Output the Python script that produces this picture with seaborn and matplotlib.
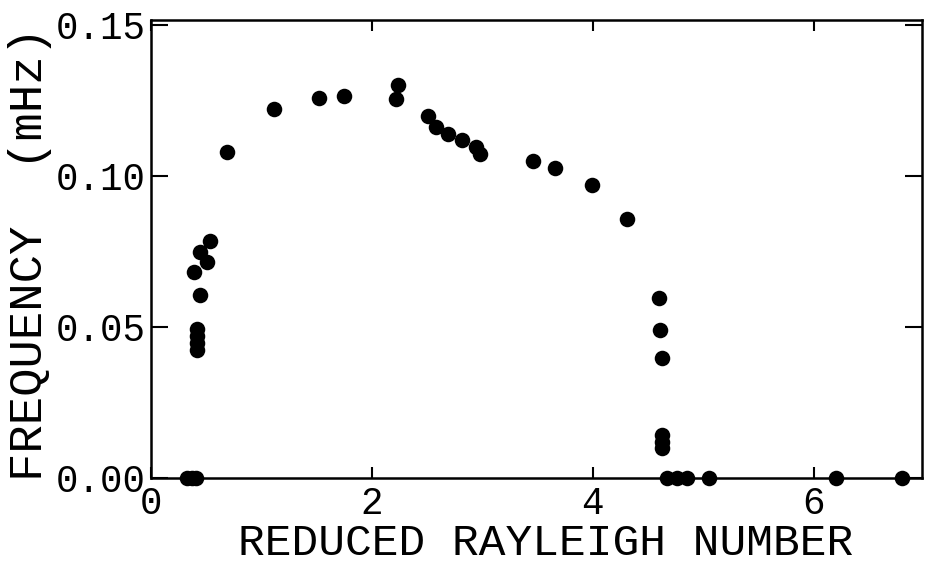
import matplotlib
matplotlib.use("Agg")
import matplotlib.pyplot as plt
import numpy as np
import pandas as pd
import seaborn as sns

# Reduced Rayleigh number (x) and frequency in mHz (y)
rayleigh = [
    0.33, 0.37, 0.41,
    0.42, 0.42, 0.42, 0.42, 0.44, 0.39, 0.51, 0.44, 0.53,
    0.69, 1.11, 1.52, 1.75, 2.22, 2.24,
    2.51, 2.58, 2.69, 2.82, 2.94, 2.98,
    3.46, 3.66, 3.99, 4.31,
    4.60, 4.61, 4.63, 4.63, 4.63, 4.63,
    4.67, 4.76, 4.85, 5.05, 6.20, 6.80,
]
frequency = [
    0.0, 0.0, 0.0,
    0.0424, 0.0447, 0.0470, 0.0493, 0.0606, 0.0682, 0.0715, 0.0748, 0.0785,
    0.1080, 0.1222, 0.1258, 0.1265, 0.1255, 0.1301,
    0.1199, 0.1162, 0.1139, 0.1119, 0.1096, 0.1073,
    0.1050, 0.1026, 0.0970, 0.0858,
    0.0596, 0.0490, 0.0397, 0.0142, 0.0119, 0.0099,
    0.0, 0.0, 0.0, 0.0, 0.0, 0.0,
]
x_ticks = [0, 2, 4, 6]
x_ticklabels = ["0", "2", "4", "6"]
y_ticks = [0.0, 0.05, 0.10, 0.15]
y_ticklabels = ["0.00", "0.05", "0.10", "0.15"]

df = pd.DataFrame({"rayleigh": rayleigh, "frequency": frequency})

sns.set_theme(style="ticks")
plt.rcParams["font.family"] = ["Liberation Mono", "DejaVu Sans Mono"]
plt.rcParams["axes.linewidth"] = 1.8

fig = plt.figure(figsize=(9.25, 5.71), dpi=100)
ax = fig.add_axes([151 / 925, 93 / 571, 771 / 925, 458 / 571])

sns.scatterplot(data=df, x="rayleigh", y="frequency", ax=ax, color="black",
                s=125, linewidth=0, legend=False, clip_on=False, zorder=3)

ax.set_xlim(0, 6.98)
ax.set_ylim(0, 0.1517)
ax.set_xticks(x_ticks)
ax.set_xticklabels(x_ticklabels)
ax.set_yticks(y_ticks)
ax.set_yticklabels(y_ticklabels)

for s in ax.spines.values():
    s.set_color("black")
    s.set_linewidth(1.8)

ax.tick_params(axis="both", direction="in", top=True, right=True,
               width=1.5, colors="black", labelsize=27)
ax.tick_params(axis="x", length=8, pad=6)
ax.tick_params(axis="y", length=12, pad=4)

ax.set_xlabel("REDUCED RAYLEIGH NUMBER", fontsize=32, color="black")
ax.set_ylabel("FREQUENCY  (mHz)", fontsize=34, color="black")
ax.xaxis.set_label_coords(0.512, -0.098)
ax.yaxis.set_label_coords(-0.128, 0.49)

fig.savefig("out.png", dpi=100, facecolor="white")
